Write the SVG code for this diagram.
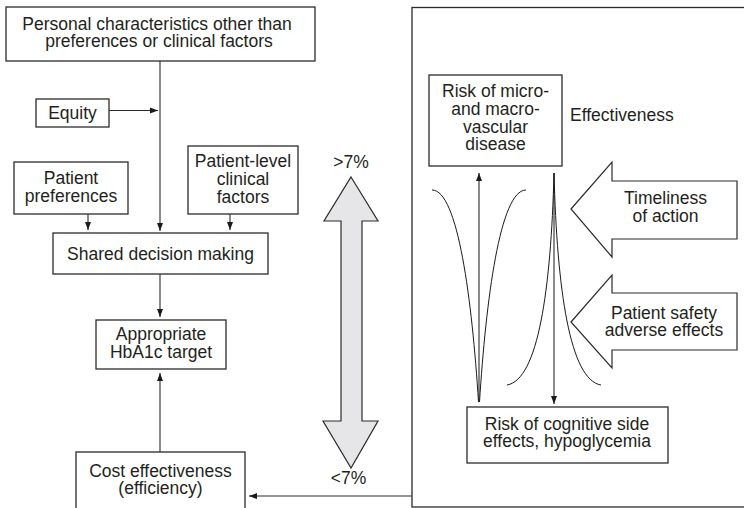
<svg xmlns="http://www.w3.org/2000/svg" width="744" height="508" viewBox="0 0 744 508">
<style>
  .box { fill: #ffffff; stroke: #2b2b2b; stroke-width: 1.3; }
  .txt { font-family: "Liberation Sans", Arial, Helvetica, sans-serif; font-size: 17.5px; fill: #231f20; text-anchor: middle; }
  .ln { fill: none; stroke: #2b2b2b; stroke-width: 1.1; }
  .crv { fill: none; stroke: #1a1a1a; stroke-width: 1; }
  .blk { fill: #ffffff; stroke: #2b2b2b; stroke-width: 1.2; stroke-linejoin: miter; }
  .dbl { fill: #e6e6e8; stroke: #2b2b2b; stroke-width: 1.2; }
</style>
<defs>
  <marker id="ah" markerUnits="userSpaceOnUse" markerWidth="8" markerHeight="8" viewBox="0 0 8 8" refX="8" refY="4" orient="auto">
    <path d="M0,1 L8,4 L0,7 z" fill="#1a1a1a"/>
  </marker>
</defs>

<g id="right-panel">
  <rect class="box" x="412" y="7.5" width="340" height="499.5"/>
</g>

<g id="connectors">
  <line class="ln" x1="160" y1="61" x2="160" y2="231" marker-end="url(#ah)"/>
  <line class="ln" x1="109" y1="110.5" x2="158" y2="110.5" marker-end="url(#ah)"/>
  <line class="ln" x1="88" y1="214" x2="88" y2="230" marker-end="url(#ah)"/>
  <line class="ln" x1="230" y1="214" x2="230" y2="230" marker-end="url(#ah)"/>
  <line class="ln" x1="160" y1="274" x2="160" y2="317" marker-end="url(#ah)"/>
  <line class="ln" x1="160" y1="452" x2="160" y2="373" marker-end="url(#ah)"/>
  <line class="ln" x1="412" y1="496" x2="249" y2="496" marker-end="url(#ah)"/>
  <line class="ln" x1="479" y1="402" x2="479" y2="173" marker-end="url(#ah)"/>
  <line class="ln" x1="554" y1="173" x2="554" y2="404" marker-end="url(#ah)"/>
</g>

<g id="curves">
  <path class="crv" d="M432,190 C458,190 472,300 478.5,402"/>
  <path class="crv" d="M526,190 C500,190 486,300 479.5,402"/>
  <path class="crv" d="M554,173 C551,290 538,380 507,385"/>
  <path class="crv" d="M554,173 C557,290 570,380 601,385"/>
</g>

<g id="personal">
  <rect class="box" x="6" y="7" width="309" height="54"/>
  <text class="txt" x="157" y="29.5">Personal characteristics other than</text>
  <text class="txt" x="159" y="47">preferences or clinical factors</text>
</g>

<g id="equity">
  <rect class="box" x="36" y="99" width="73" height="28"/>
  <text class="txt" x="72.5" y="118.5">Equity</text>
</g>

<g id="patient-preferences">
  <rect class="box" x="14" y="162" width="114" height="52"/>
  <text class="txt" x="71" y="183.5">Patient</text>
  <text class="txt" x="71" y="201.5">preferences</text>
</g>

<g id="patient-level">
  <rect class="box" x="188" y="146" width="110" height="68"/>
  <text class="txt" x="243" y="166.5">Patient-level</text>
  <text class="txt" x="243" y="184.5">clinical</text>
  <text class="txt" x="243" y="202.5">factors</text>
</g>

<g id="shared">
  <rect class="box" x="53" y="233" width="215" height="41"/>
  <text class="txt" x="160.5" y="259.5">Shared decision making</text>
</g>

<g id="hba1c">
  <rect class="box" x="96" y="320" width="130" height="49"/>
  <text class="txt" x="161" y="340">Appropriate</text>
  <text class="txt" x="161" y="357.5">HbA1c target</text>
</g>

<g id="cost">
  <rect class="box" x="76" y="452" width="169" height="70"/>
  <text class="txt" x="160.5" y="477">Cost effectiveness</text>
  <text class="txt" x="160.5" y="494">(efficiency)</text>
</g>

<g id="range-arrow">
  <polygon class="dbl" points="351,177 378,221 362,221 362,421 378,421 351,468 323,421 341,421 341,221 324,221"/>
  <text class="txt" x="351" y="168">&gt;7%</text>
  <text class="txt" x="348.5" y="484">&lt;7%</text>
</g>

<g id="risk-micro">
  <rect class="box" x="429" y="75" width="133" height="91"/>
  <text class="txt" x="495.5" y="97">Risk of micro-</text>
  <text class="txt" x="495.5" y="115">and macro-</text>
  <text class="txt" x="495.5" y="132.5">vascular</text>
  <text class="txt" x="495.5" y="150">disease</text>
</g>

<g id="effectiveness">
  <text class="txt" x="570" y="121" style="text-anchor:start">Effectiveness</text>
</g>

<g id="timeliness">
  <polygon class="blk" points="571,209 612,162 612,181 737,181 737,239 612,239 612,257"/>
  <text class="txt" x="665.5" y="204">Timeliness</text>
  <text class="txt" x="665.5" y="222">of action</text>
</g>

<g id="patient-safety">
  <polygon class="blk" points="571,322 612,275 612,293 737,293 737,350 612,350 612,368"/>
  <text class="txt" x="664" y="318.5">Patient safety</text>
  <text class="txt" x="664" y="336">adverse effects</text>
</g>

<g id="risk-cognitive">
  <rect class="box" x="467" y="407" width="201" height="56"/>
  <text class="txt" x="567" y="429.5">Risk of cognitive side</text>
  <text class="txt" x="567" y="447">effects, hypoglycemia</text>
</g>
</svg>
